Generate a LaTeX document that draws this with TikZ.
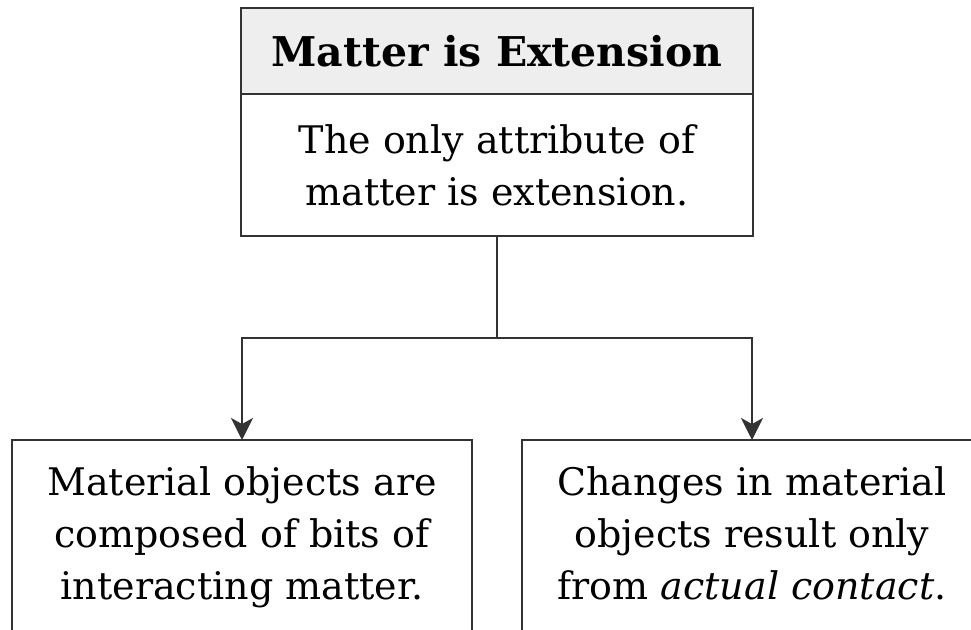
\documentclass[tikz,border=0pt]{standalone}
\usepackage{fontspec}
\setmainfont{DejaVu Serif}
\usepackage{tikz}
\usetikzlibrary{arrows.meta,positioning}
\definecolor{linegray}{HTML}{333333}
\definecolor{headgray}{HTML}{EEEEEE}

\begin{document}
\begin{tikzpicture}[%
    box/.style={draw=linegray,line width=1pt,outer sep=0pt,inner sep=0pt,align=center,font=\fontsize{19}{26}\selectfont},%
    link/.style={draw=linegray,line width=1pt},%
    arr/.style={link,-{Stealth[length=11pt,width=11pt,inset=3pt]}}]%
          \useasboundingbox (0,0) rectangle (485.5pt,-315pt);%
          \clip (0,0) rectangle (485.5pt,-315pt);%
          \node[box,fill=headgray,minimum width=256pt,minimum height=43pt,font=\fontsize{20.5}{26}\selectfont\bfseries] (H) at (248.5pt,-25.5pt) {Matter is Extension};%
          \node[box,fill=white,minimum width=256pt,minimum height=71pt,below=0pt of H] (T) {The only attribute of\\matter is extension.};%
          \node[box,minimum width=230pt,minimum height=98pt,text depth=4.5pt] (L) at (121pt,-269pt) {Material objects are\\composed of bits of\\interacting matter.};%
          \node[box,minimum width=230pt,minimum height=98pt,text depth=4.5pt] (R) at (376pt,-269pt) {Changes in material\\objects result only\\from \textit{actual contact}.};%
          \coordinate (M) at (248.5pt,-169pt);%
          \draw [link] (T.south) to (M);%
          \draw [arr] (M) -| (L.north);%
          \draw [arr] (M) -| (R.north);%
        \end{tikzpicture}
\end{document}
